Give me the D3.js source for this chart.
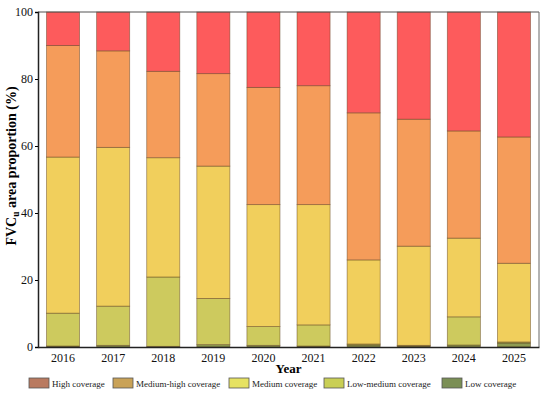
<!DOCTYPE html>
<html>
<head>
<meta charset="utf-8">
<script src="https://cdn.jsdelivr.net/npm/d3@7"></script>
</head>
<body style="margin:0;background:#fff">
<svg width="550" height="395"></svg>
<script>
const years = ['2016','2017','2018','2019','2020','2021','2022','2023','2024','2025'];
const classes = ['Low coverage','Low-medium coverage','Medium coverage','Medium-high coverage','High coverage'];
// share of each class per year (%)
const lowVals       = [0.3, 0.5, 0.2, 0.7, 0.5, 0.3, 0.6, 0.3, 0.6, 1.2];
const lowMediumVals = [9.8, 11.7, 20.7, 13.8, 5.6, 6.3, 0.3, 0.2, 8.4, 0.3];
const mediumVals    = [46.6, 47.4, 35.6, 39.5, 36.4, 35.9, 25.1, 29.6, 23.5, 23.5];
const medHighVals   = [33.3, 28.8, 25.8, 27.6, 35.0, 35.5, 43.9, 37.9, 32.0, 37.7];
const highVals      = [10.0, 11.6, 17.7, 18.4, 22.5, 22.0, 30.1, 32.0, 35.5, 37.3];
const yTicks = [0, 20, 40, 60, 80, 100];

const barColors = ['#8f9c52', '#cdca5e', '#f1cf5c', '#f59c5a', '#fd5b5c'];
const legendItems = ['High coverage','Medium-high coverage','Medium coverage','Low-medium coverage','Low coverage'];
const legendColors = ['#b97a60', '#c9a257', '#e6e262', '#c9cf55', '#7b8f55'];

const rows = years.map((y, i) => ({
  year: y,
  'Low coverage': lowVals[i],
  'Low-medium coverage': lowMediumVals[i],
  'Medium coverage': mediumVals[i],
  'Medium-high coverage': medHighVals[i],
  'High coverage': highVals[i]
}));

const margin = {left: 38, right: 11, top: 12, bottom: 48};
const W = 550, H = 395;
const serif = '"Liberation Serif"';
const svg = d3.select('svg');

const x = d3.scaleBand()
  .domain(years)
  .range([margin.left, W - margin.right])
  .paddingInner(0.34)
  .paddingOuter(0.17);

const y = d3.scaleLinear()
  .domain([0, 100])
  .range([H - margin.bottom, margin.top]);

const stack = d3.stack().keys(classes)(rows);

svg.append('g')
  .selectAll('g')
  .data(stack)
  .join('g')
    .attr('fill', (d, i) => barColors[i])
  .selectAll('rect')
  .data(d => d)
  .join('rect')
    .attr('x', d => x(d.data.year))
    .attr('width', x.bandwidth())
    .attr('y', d => y(Math.min(100, d[1])))
    .attr('height', d => Math.max(0, y(d[0]) - y(Math.min(100, d[1]))))
    .attr('stroke', '#5a3a1a')
    .attr('stroke-opacity', 0.55)
    .attr('stroke-width', 0.8);

// frame
svg.append('line')
  .attr('x1', margin.left).attr('x2', W - margin.right)
  .attr('y1', margin.top).attr('y2', margin.top)
  .attr('stroke', '#555').attr('stroke-width', 1.2);
svg.append('line')
  .attr('x1', W - margin.right).attr('x2', W - margin.right)
  .attr('y1', margin.top).attr('y2', H - margin.bottom)
  .attr('stroke', '#666').attr('stroke-width', 1);

const yAxis = svg.append('g')
  .attr('transform', `translate(${margin.left},0)`)
  .call(d3.axisLeft(y).tickValues(yTicks).tickSize(3).tickPadding(2));
yAxis.select('.domain').attr('stroke', '#222').attr('stroke-width', 1.5);
yAxis.selectAll('text').attr('font-size', 12).attr('fill', '#111');

const xAxis = svg.append('g')
  .attr('transform', `translate(0,${H - margin.bottom})`)
  .call(d3.axisBottom(x).tickSize(0).tickPadding(6));
xAxis.select('.domain').attr('stroke', '#222').attr('stroke-width', 1.5);
xAxis.selectAll('text').attr('font-size', 12).attr('fill', '#111');

svg.append('text')
  .attr('x', (margin.left + W - margin.right) / 2)
  .attr('y', 373)
  .attr('text-anchor', 'middle')
  .attr('font-size', 13)
  .attr('font-weight', 'bold')
  .text('Year');

const yl = svg.append('text')
  .attr('transform', 'translate(16,166) rotate(-90)')
  .attr('text-anchor', 'middle')
  .attr('font-size', 14)
  .attr('font-weight', 'bold');
yl.append('tspan').text('FVC');
yl.append('tspan').attr('font-size', 9.5).attr('dy', 3).text('u');
yl.append('tspan').attr('dy', -3).text(' area proportion (%)');

const legendX = [29, 113, 229, 324, 442];
const leg = svg.append('g')
  .selectAll('g')
  .data(legendItems)
  .join('g')
    .attr('transform', (d, i) => `translate(${legendX[i]},378)`);
leg.append('rect')
  .attr('width', 20).attr('height', 10)
  .attr('fill', (d, i) => legendColors[i])
  .attr('stroke', '#555').attr('stroke-width', 0.8);
leg.append('text')
  .attr('x', 23).attr('y', 8.5)
  .attr('font-size', 9)
  .attr('fill', '#222')
  .text(d => d);

// serif everywhere, set inline so the axis defaults do not win
svg.selectAll('g').attr('font-family', null);
svg.selectAll('text').style('font-family', serif);
</script>
</body>
</html>
